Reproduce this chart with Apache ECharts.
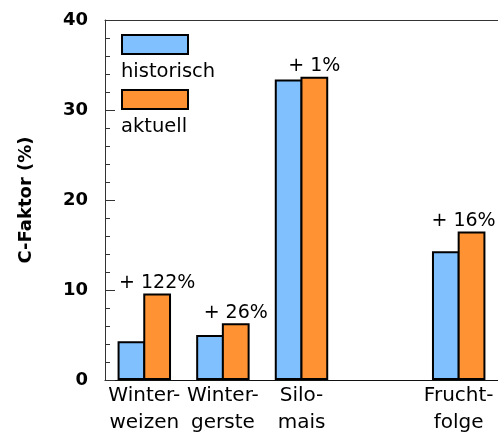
<!DOCTYPE html>
<html>
<head>
<meta charset="utf-8">
<script src="https://cdn.jsdelivr.net/npm/echarts@6/dist/echarts.min.js"></script>
<style>
  html, body { margin: 0; padding: 0; background: #fff; }
  #chart { width: 498px; height: 434px; }
</style>
</head>
<body>
<div id="chart"></div>
<script>
// Kategorien (4. Platz bleibt leer als Lücke vor "Fruchtfolge")
var categories = ['Winter-\nweizen', 'Winter-\ngerste', 'Silo-\nmais', '', 'Frucht-\nfolge'];
var historisch = [4.3, 5.0, 33.4, '-', 14.3];
var aktuell = [9.6, 6.3, 33.7, '-', 16.5];
var zunahme = ['+ 122%', '+ 26%', '+ 1%', '', '+ 16%'];
var seriesNames = ['historisch', 'aktuell'];
var yTicks = { min: 0, max: 40, interval: 10 };

var FONT = 'DejaVu Sans';
var BLUE = '#80c0ff';
var ORANGE = '#ff9333';

var chart = echarts.init(document.getElementById('chart'));

// letztes Label etwas nach links, sonst wird es am Rand abgeschnitten
var aktuellData = aktuell.map(function (v, i) {
  var item = { value: v };
  if (i === aktuell.length - 1) item.label = { offset: [-8, 0] };
  return item;
});

var option = {
  animation: false,
  backgroundColor: '#fff',
  grid: { left: 105, right: 0, top: 20, bottom: 54, outerBoundsMode: 'none' },
  legend: {
    left: 121,
    top: 34,
    padding: 0,
    orient: 'vertical',
    icon: 'rect',
    itemWidth: 66,
    itemHeight: 19,
    itemGap: 34,
    data: seriesNames,
    formatter: function () { return ''; },
    itemStyle: { borderColor: '#000', borderWidth: 2 }
  },
  graphic: [
    { type: 'text', left: 121, top: 62, style: { text: seriesNames[0], font: '19.5px "' + FONT + '"', fill: '#000' } },
    { type: 'text', left: 121, top: 117, style: { text: seriesNames[1], font: '19.5px "' + FONT + '"', fill: '#000' } }
  ],
  xAxis: [{
    type: 'category',
    data: categories,
    axisLine: { lineStyle: { color: '#111', width: 1 } },
    axisTick: { inside: true, length: 8, lineStyle: { color: '#555' } },
    axisLabel: {
      color: '#000', fontFamily: FONT, fontSize: 20, lineHeight: 27, margin: 2, interval: 0
    }
  }, {
    type: 'category',
    data: categories,
    position: 'top',
    axisLine: { lineStyle: { color: '#333', width: 1 } },
    axisTick: { show: false },
    axisLabel: { show: false }
  }],
  yAxis: {
    type: 'value',
    min: yTicks.min,
    max: yTicks.max,
    interval: yTicks.interval,
    name: 'C-Faktor (%)',
    nameLocation: 'middle',
    nameRotate: 90,
    nameGap: 70,
    nameTextStyle: { color: '#000', fontFamily: FONT, fontSize: 18, fontWeight: 'bold' },
    axisLine: { show: true, lineStyle: { color: '#333', width: 1 } },
    axisTick: { show: true, inside: true, length: 10, lineStyle: { color: '#333' } },
    minorTick: { show: true, splitNumber: 5, length: 5, lineStyle: { color: '#333' } },
    splitLine: { show: false },
    axisLabel: { color: '#000', fontFamily: FONT, fontSize: 18, fontWeight: 'bold', margin: 17 }
  },
  series: [{
    name: seriesNames[0],
    type: 'bar',
    data: historisch,
    barGap: '-7.5%',
    barCategoryGap: '32%',
    itemStyle: { color: BLUE, borderColor: '#000', borderWidth: 2 }
  }, {
    name: seriesNames[1],
    type: 'bar',
    data: aktuellData,
    barGap: '-7.5%',
    barCategoryGap: '32%',
    itemStyle: { color: ORANGE, borderColor: '#000', borderWidth: 2 },
    label: {
      show: true,
      position: 'top',
      distance: 1,
      color: '#000',
      fontFamily: FONT,
      fontSize: 19,
      formatter: function (p) { return zunahme[p.dataIndex]; }
    }
  }]
};

chart.setOption(option);
</script>
</body>
</html>
